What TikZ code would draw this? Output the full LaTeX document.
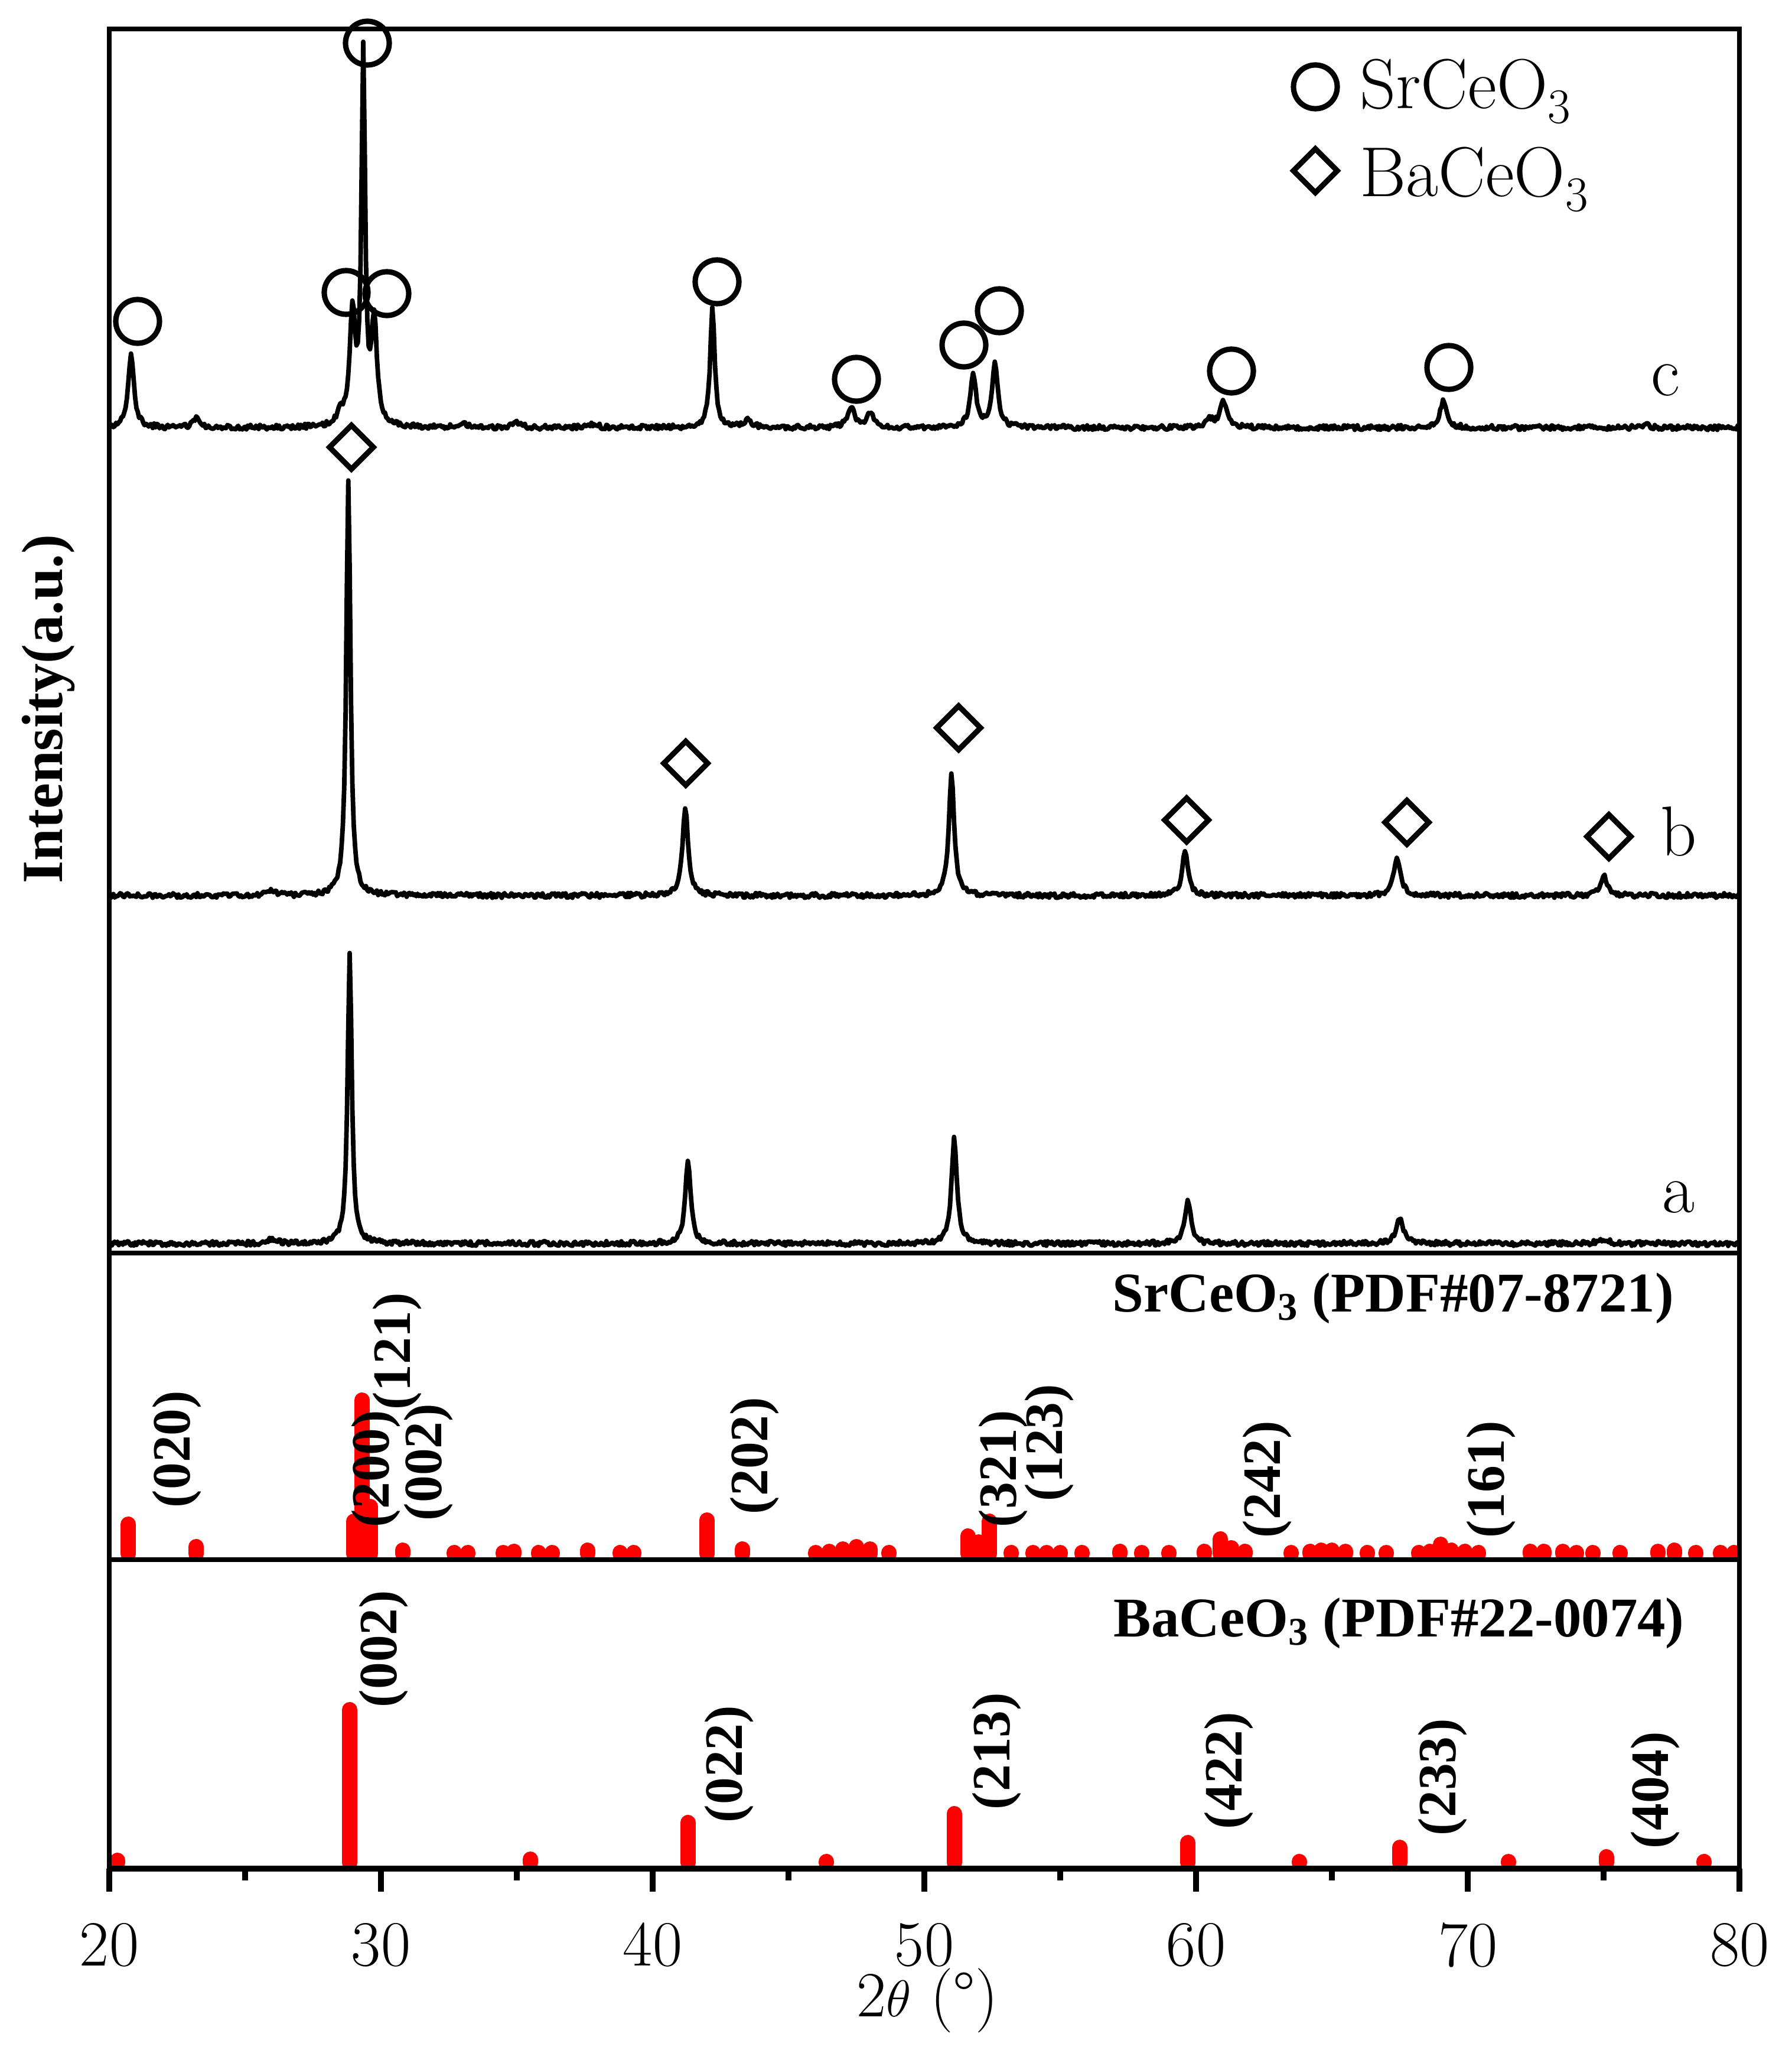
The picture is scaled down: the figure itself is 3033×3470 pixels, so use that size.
\documentclass[tikz,border=0pt]{standalone}
\usepackage{fontspec}
\newfontfamily\tnr{Liberation Serif}
\usetikzlibrary{shapes.geometric}
\begin{document}
\begin{tikzpicture}[x=0.01cm,y=-0.01cm,
  circ/.style={circle,draw,line width=2.6pt,minimum size=0.74cm,inner sep=0pt},
  diam/.style={diamond,draw,line width=2.6pt,minimum size=0.78cm,inner sep=0pt},
  trace/.style={line width=2.2pt,line join=round},
  stk/.style={red,line width=0.26cm,line cap=round},
  hkl/.style={rotate=90,font=\tnr\bfseries\fontsize{26}{30}\selectfont,inner sep=0pt},
  frame/.style={line width=2.4pt},
  ticklab/.style={font=\fontsize{31}{36}\selectfont},
  curlab/.style={font=\fontsize{34}{40}\selectfont}]
\useasboundingbox (0,0) rectangle (3033,3470);
\pgfmathsetseed{7}
\def\X#1{185+(#1-20)*46}
\newcommand\stick[3]{\draw[stk] ({\X{#1}},#2-10) -- ({\X{#1}},#2-#3);}
% traces
\tikzset{declare function={L(\t,\c,\w)=(\w*\w)/(\w*\w+(\t-\c)*(\t-\c));}}
\draw[trace] plot[domain=20:80,samples=1201] ({\X{\x}},{724+4*rand
 -124*L(\x,20.8,0.13)-15*L(\x,23.2,0.15)-20*L(\x,28.5,0.13)-190*L(\x,28.95,0.12)
 -624*L(\x,29.35,0.08)-175*L(\x,29.75,0.12)-6*L(\x,33.0,0.2)-8*L(\x,35.0,0.2)
 -6*L(\x,37.8,0.2)-200*L(\x,42.2,0.1)-12*L(\x,43.5,0.2)-36*L(\x,47.3,0.15)
 -25*L(\x,48.0,0.15)-87*L(\x,51.8,0.13)-107*L(\x,52.6,0.13)-12*L(\x,60.5,0.2)
 -44*L(\x,61.0,0.15)-44*L(\x,69.1,0.15)-5*L(\x,76.5,0.2)});
\draw[trace] plot[domain=20:80,samples=1201] ({\X{\x}},{1516+4*rand
 -706*L(\x,28.8,0.09)-8*L(\x,26.0,0.2)-151*L(\x,41.2,0.12)-206*L(\x,51.0,0.12)
 -77*L(\x,59.6,0.13)-64*L(\x,67.4,0.15)-33*L(\x,75.0,0.15)});
\draw[trace] plot[domain=20:80,samples=1201] ({\X{\x}},{2105+4*rand
 -495*L(\x,28.85,0.09)-8*L(\x,26.0,0.2)-140*L(\x,41.3,0.12)-178*L(\x,51.1,0.12)
 -74*L(\x,59.7,0.13)-45*L(\x,67.5,0.15)-8*L(\x,75.0,0.2)});
% markers
\node[circ] (c1) at (622,73) {};
\node[circ] (c2) at (233,544) {};
\node[circ] (c3) at (586,495) {};
\node[circ] (c4) at (655,497) {};
\node[circ] (c5) at (1214,477) {};
\node[circ] (c6) at (1450,642) {};
\node[circ] (c7) at (1632,584) {};
\node[circ] (c8) at (1692,526) {};
\node[circ] (c9) at (2085,628) {};
\node[circ] (c10) at (2453,622) {};
\node[diam] (d1) at (595,757) {};
\node[diam] (d2) at (1161,1292) {};
\node[diam] (d3) at (1623,1232) {};
\node[diam] (d4) at (2009,1388) {};
\node[diam] (d5) at (2382,1392) {};
\node[diam] (d6) at (2724,1416) {};
% legend
\node[circ] (lc) at (2227,147) {};
\node[diam] (ld) at (2227,289) {};
\node[anchor=west,curlab] (lt1) at (2290,155) {SrCeO\textsubscript{3}};
\node[anchor=west,curlab] (lt2) at (2290,304) {BaCeO\textsubscript{3}};
\node[curlab] (la) at (2842,2027) {a};
\node[curlab] (lb) at (2842,1407) {b};
\node[curlab] (lcc) at (2820,644) {c};
% sticks SrCeO3
\foreach \t/\h in {20.7/60,23.2/22,29.0/65,29.3/270,29.6/90,30.8/16,32.7/12,33.2/12,34.5/12,34.9/14,35.8/12,36.3/12,37.6/16,38.8/12,39.3/12,42.0/67,43.3/18,46.0/12,46.5/14,47.0/18,47.5/22,48.0/18,48.7/12,51.6/40,52.0/30,52.4/65,53.2/12,54.0/12,54.5/12,55.0/12,55.8/12,57.2/14,58.0/12,59.0/12,60.3/14,60.9/35,61.3/20,61.8/14,63.5/12,64.2/14,64.6/16,65.0/16,65.5/14,66.3/12,67.0/12,68.2/12,68.6/14,69.0/26,69.4/16,69.9/14,70.4/12,72.3/14,72.8/14,73.5/14,74.0/12,74.6/12,75.6/12,77.0/14,77.6/16,78.4/12,79.3/12,79.8/12}{\stick{\t}{2640}{\h}}
% sticks BaCeO3
\foreach \t/\h in {20.3/14,28.85/269,35.5/16,41.3/78,46.4/12,51.1/93,59.7/44,63.8/12,67.5/36,71.5/12,75.1/20,78.7/12}{\stick{\t}{3163}{\h}}
% hkl labels
\node[hkl] (s1) at (300,2453) {(020)};
\node[hkl] (s2) at (637,2486) {(200)};
\node[hkl] (s3) at (673,2287) {(121)};
\node[hkl] (s4) at (726,2475) {(002)};
\node[hkl] (s5) at (1277,2464) {(202)};
\node[hkl] (s6) at (1698,2486) {(321)};
\node[hkl] (s7) at (1776,2442) {(123)};
\node[hkl] (s8) at (2145,2504) {(242)};
\node[hkl] (s9) at (2524,2504) {(161)};
\node[hkl] (b1) at (650,2791) {(002)};
\node[hkl] (b2) at (1234,2986) {(022)};
\node[hkl] (b3) at (1687,2964) {(213)};
\node[hkl] (b4) at (2080,2997) {(422)};
\node[hkl] (b5) at (2442,3008) {(233)};
\node[hkl] (b6) at (2802,3030) {(404)};
\node[anchor=east,font=\tnr\bfseries\fontsize{27}{32}\selectfont] (t1) at (2846,2198) {SrCeO\textsubscript{3} (PDF\#07-8721)};
\node[anchor=east,font=\tnr\bfseries\fontsize{27}{32}\selectfont] (t2) at (2864,2748) {BaCeO\textsubscript{3} (PDF\#22-0074)};
% frame
\draw[frame] (185,49) rectangle (2945,3163);
\draw[frame] (185,2121) -- (2945,2121);
\draw[frame] (185,2640) -- (2945,2640);
\draw[line width=2.9pt] (185,3163) -- (2945,3163);
\foreach \t in {20,30,...,80}{\draw[line width=2.6pt] ({\X{\t}},3163) -- ({\X{\t}},3202);
  \node[ticklab] at ({\X{\t}},3292) {\t};}
\foreach \t in {25,35,...,75}{\draw[line width=2.6pt] ({\X{\t}},3163) -- ({\X{\t}},3183);}
\node[ticklab] (xl) at (1570,3386) {2$\theta$ (°)};
\node[rotate=90,font=\tnr\bfseries\fontsize{28}{32}\selectfont] (yl) at (82,1200) {Intensity(a.u.)};
\end{tikzpicture}
\end{document}
